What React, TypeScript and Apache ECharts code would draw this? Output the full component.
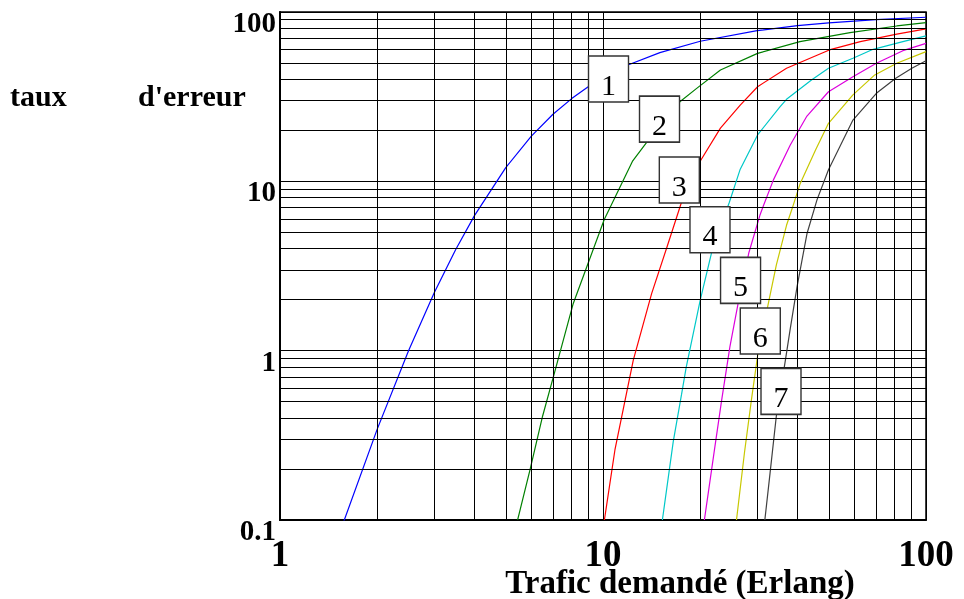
import React, { useEffect, useRef } from "react";
import * as echarts from "echarts";

const SERIF = "'Liberation Serif', 'Times New Roman', serif";

// Blocking rate (%) vs offered traffic (Erlang), one curve per label 1..7
const curve1: [number, number][] = [[1.5,0.0757],[2,0.344],[2.5,0.998],[3,2.19],[3.5,3.96],[4,6.27],[5,12.05],[6,18.5],[7,24.9],[8,30.8],[9,36.2],[10,40.9],[12,48.8],[15,57.6],[20,67.2],[30,77.6],[40,83.0],[50,86.3],[70,90.2],[100,93.1]];
const curve2: [number, number][] = [[5.44,0.1],[5.94,0.197],[6.5,0.41],[7.02,0.70],[8.09,1.9],[9.07,3.43],[10.09,5.95],[11.3,9.3],[12.33,13.1],[13.69,17.1],[15,21.3],[17.3,29.5],[19.5,35.4],[23.1,45.4],[30.1,57.0],[40.7,66.8],[58.2,75.5],[81.2,82.7],[100,86.5]];
const curve3: [number, number][] = [[10.1,0.1],[10.89,0.26],[12.41,0.88],[14.15,2.18],[15.79,4.11],[17.45,7.4],[19.97,13.1],[23.1,20.6],[26.6,28.2],[30.1,36.2],[37,46.5],[50.2,59.7],[62.6,66.8],[81.2,74.1],[100,79.4]];
const curve4: [number, number][] = [[15.27,0.1],[16.5,0.29],[17.5,0.55],[18.1,0.8],[20,1.99],[21.9,4.1],[24.6,7.5],[26.6,11.8],[30.1,18.8],[35.3,27.5],[37,30.5],[44.2,39.7],[49.9,46.5],[59.4,53.3],[68.6,60.2],[84.8,66.8],[100,72.2]];
const curve5: [number, number][] = [[20.6,0.1],[22.2,0.27],[23.3,0.51],[24.7,1.05],[26.2,1.9],[28.3,3.8],[30.6,6.3],[31.4,7.2],[33.7,10.2],[38,16.4],[42.8,24.3],[49.9,33.8],[59.4,41.5],[70.2,49.8],[84.8,59.1],[100,65.3]];
const curve6: [number, number][] = [[25.9,0.1],[27.4,0.248],[28.8,0.51],[30.1,0.93],[32.5,1.9],[34.4,3.2],[37,5.5],[38.6,7.0],[40.7,9.6],[45.5,15.3],[49.9,22.0],[59.4,32.4],[69.4,42.5],[81.2,49.8],[100,58.3]];
const curve7: [number, number][] = [[31.7,0.1],[32.9,0.189],[34.4,0.41],[36.6,0.85],[38,1.35],[39.9,2.4],[42.8,4.9],[46,7.8],[49.9,11.7],[59.4,23],[70.2,33.1],[80.6,40.6],[90.4,46.5],[100,51.6]];

const curveColors = ["#0000ff", "#008000", "#ff0000", "#00c8c8", "#dd00dd", "#c8c800", "#404040"];

// Label boxes (curve numbers) at data positions
const labelText = ["1", "2", "3", "4", "5", "6", "7"];
const labelX = [10.4, 14.96, 17.23, 21.44, 26.66, 30.69, 35.57];
const labelY = [40.2, 23.3, 10.18, 5.18, 2.6, 1.306, 0.575];

// Minor grid values
const xMinor = [2, 3, 4, 5, 6, 7, 8, 9, 20, 30, 40, 50, 60, 70, 80, 90];
const yMinor = [0.2, 0.3, 0.4, 0.5, 0.6, 0.7, 0.8, 0.9, 2, 3, 4, 5, 6, 7, 8, 9, 20, 30, 40, 50, 60, 70, 80, 90];

export default function App() {
  const ref = useRef<HTMLDivElement>(null);
  useEffect(() => {
    const chart = echarts.init(ref.current!, null, { renderer: "svg" });
    const curves = [curve1, curve2, curve3, curve4, curve5, curve6, curve7];
    chart.setOption({
      animation: false,
      grid: { left: 280, top: 12, width: 646, height: 508, show: true, borderColor: "#000", borderWidth: 1.5, backgroundColor: "#fff" },
      xAxis: {
        type: "log", logBase: 10, min: 1, max: 100,
        axisLine: { show: true, onZero: false, lineStyle: { color: "#000", width: 2 } },
        axisTick: { show: false },
        splitLine: { show: true, lineStyle: { color: "#000", width: 1 } },
        axisLabel: { fontSize: 37, fontWeight: "bold", fontFamily: SERIF, color: "#000", margin: 20, verticalAlign: "top", lineHeight: 26 },
      },
      yAxis: {
        type: "log", logBase: 10, min: 0.1, max: 100,
        axisLine: { show: true, onZero: false, lineStyle: { color: "#000", width: 2 } },
        axisTick: { show: false },
        splitLine: { show: true, lineStyle: { color: "#000", width: 1 } },
        axisLabel: { fontSize: 29, fontWeight: "bold", fontFamily: SERIF, color: "#000", margin: 4, verticalAlign: "top", lineHeight: 20 },
      },
      graphic: [
        { type: "text", x: 10, y: 95, style: { text: "taux", font: `bold 30px ${SERIF}`, fill: "#000", textAlign: "left", textVerticalAlign: "middle" } },
        { type: "text", x: 138, y: 95, style: { text: "d'erreur", font: `bold 30px ${SERIF}`, fill: "#000", textAlign: "left", textVerticalAlign: "middle" } },
        { type: "text", x: 680, y: 582, style: { text: "Trafic demandé (Erlang)", font: `bold 33px ${SERIF}`, fill: "#000", textAlign: "center", textVerticalAlign: "middle", lineHeight: 28 } },
      ],
      series: [
        {
          type: "line", data: [[1, 0.1]], showSymbol: false, lineStyle: { opacity: 0 }, silent: true, z: 1,
          markLine: {
            silent: true, symbol: ["none", "none"], label: { show: false },
            lineStyle: { color: "#000", width: 1, type: "solid" },
            emphasis: { disabled: true },
            data: [...xMinor.map((v) => ({ xAxis: v })), ...yMinor.map((v) => ({ yAxis: v }))],
          },
        },
        ...curves.map((c, i) => ({
          type: "line", data: c, showSymbol: false, clip: true, z: 3, silent: true,
          lineStyle: { color: curveColors[i], width: 1.2 },
        })),
        {
          type: "scatter", z: 6, silent: true,
          data: labelText.map((t, i) => ({ name: t, value: [labelX[i], labelY[i]] })),
          symbol: "rect", symbolSize: [40, 46],
          itemStyle: { color: "#fff", borderColor: "#333", borderWidth: 1.5, opacity: 1 },
          label: { show: true, position: "inside", formatter: "{b}", fontSize: 30, fontFamily: SERIF, color: "#000", offset: [0, 5] },
        },
      ],
    });
    return () => chart.dispose();
  }, []);
  return <div ref={ref} style={{ position: "fixed", left: 0, top: 0, width: 964, height: 599 }} />;
}
